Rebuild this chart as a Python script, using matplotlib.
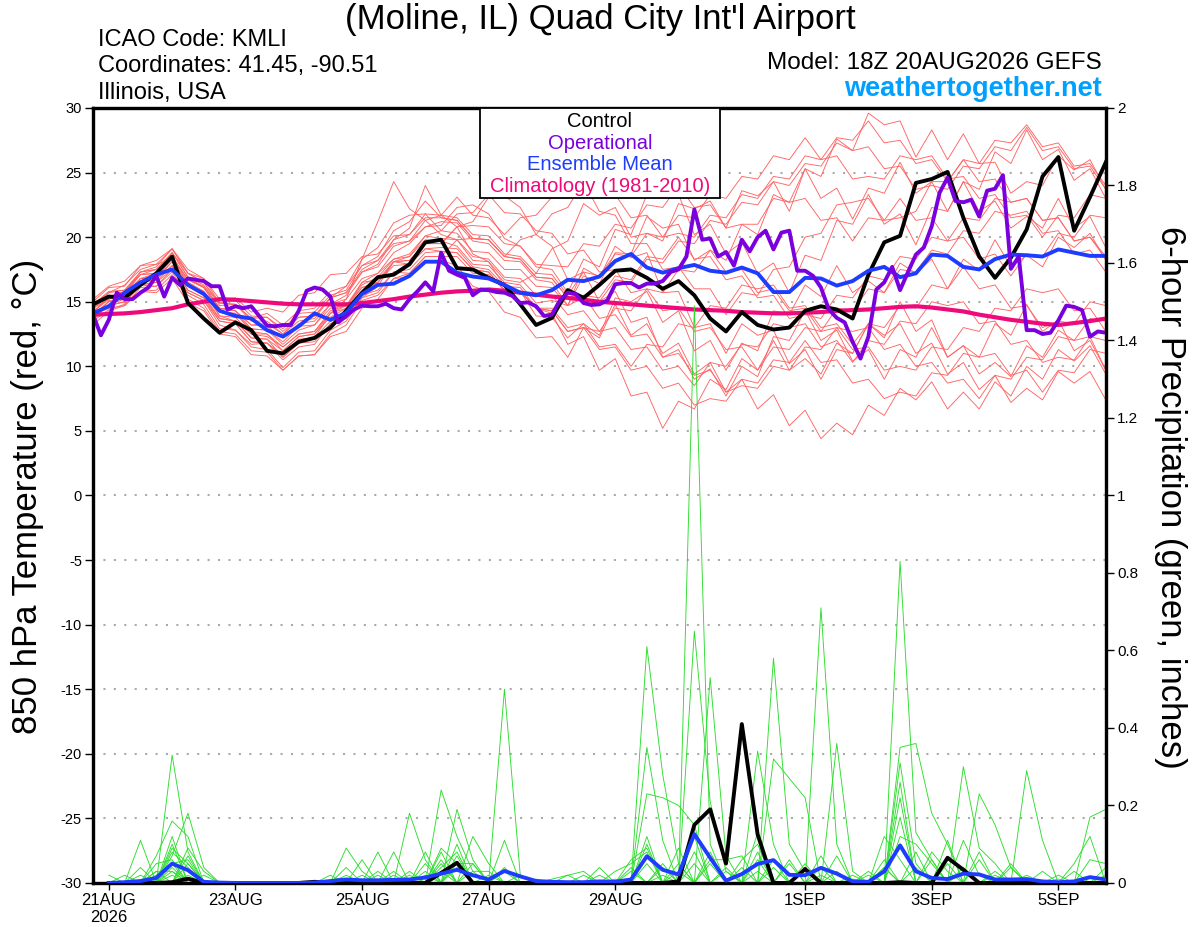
import numpy as np
import pandas as pd
import matplotlib
matplotlib.use('Agg')
import matplotlib.pyplot as plt
from matplotlib.patches import Rectangle

plt.rcParams['font.family'] = ['Liberation Sans', 'DejaVu Sans']
plt.rcParams['axes.unicode_minus'] = False

# ---------------- data ----------------
times6 = pd.date_range('2026-08-20 18:00', periods=65, freq='6h')
times3 = pd.date_range('2026-08-20 18:00', periods=129, freq='3h')

control_t = [14.8, 15.4, 15.3, 16.3, 17.2, 18.5, 14.9, 13.7, 12.6, 13.4,
             12.8, 11.2, 11.0, 11.9, 12.2, 13.0, 14.3, 15.7, 16.9, 17.1,
             17.9, 19.6, 19.8, 17.6, 17.5, 16.85, 16.3, 14.8, 13.2, 13.75,
             15.9, 15.3, 16.3, 17.4, 17.5, 16.85, 16.0, 16.6, 15.5, 13.7,
             12.7, 14.2, 13.2, 12.85, 13.0, 14.3, 14.65, 14.4, 13.7, 17.1,
             19.6, 20.1, 24.2, 24.5, 25.05, 21.5, 18.5, 16.85, 18.4, 20.6,
             24.7, 26.2, 20.5, 23.1, 25.8]

operational_t = [14.0, 12.4, 13.6, 15.7, 15.2, 15.2, 15.7, 16.1, 17.0, 15.4,
                 16.85, 16.3, 16.8, 16.7, 16.6, 16.2, 16.2, 14.4, 14.65, 14.5,
                 14.65, 13.9, 13.15, 13.1, 13.2, 13.2, 14.3, 15.85, 16.1, 15.95,
                 15.4, 13.4, 13.9, 14.4, 14.7, 14.65, 14.65, 14.85, 14.5, 14.4,
                 15.2, 15.8, 16.5, 15.8, 18.8, 17.4, 17.1, 16.85, 15.5, 15.95,
                 15.9, 15.75, 15.7, 15.45, 14.9, 14.95, 14.65, 13.9, 14.0, 15.1,
                 15.7, 15.6, 14.9, 14.75, 14.8, 15.1, 16.35, 16.45, 16.45, 16.1,
                 16.4, 16.4, 16.6, 17.3, 17.5, 18.5, 22.15, 19.8, 19.9, 18.5,
                 18.85, 17.8, 19.8, 18.9, 20.0, 20.5, 19.05, 20.35, 20.5, 17.4,
                 17.4, 17.0, 16.1, 14.4, 13.75, 13.4, 11.9, 10.6, 12.3, 15.95,
                 16.5, 17.7, 15.9, 17.3, 18.65, 19.2, 20.85, 23.45, 24.6, 22.8,
                 22.7, 22.9, 21.6, 23.6, 23.75, 24.8, 17.55, 18.5, 12.8, 12.8,
                 12.5, 12.6, 13.55, 14.7, 14.6, 14.35, 12.3, 12.7, 12.6]

mean_t = [14.1, 14.65, 15.7, 16.5, 17.1, 17.5, 16.3, 15.6, 14.3, 13.9,
          13.7, 12.8, 12.3, 13.1, 14.1, 13.6, 14.15, 15.6, 16.3, 16.4,
          17.0, 18.1, 18.1, 17.25, 16.95, 16.8, 16.3, 15.7, 15.5, 15.9,
          16.7, 16.6, 16.95, 18.15, 18.7, 17.65, 17.25, 17.6, 17.85, 17.4,
          17.25, 17.65, 17.2, 15.75, 15.75, 16.85, 16.8, 16.25, 16.6, 17.4,
          17.7, 16.9, 17.2, 18.65, 18.55, 17.7, 17.5, 18.3, 18.65, 18.6,
          18.5, 19.05, 18.8, 18.55, 18.55]

clim_t = [14.0, 14.05, 14.1, 14.2, 14.35, 14.5, 14.8, 15.0, 15.2, 15.15,
          15.05, 14.95, 14.85, 14.8, 14.8, 14.8, 14.8, 14.9, 15.05, 15.2,
          15.4, 15.55, 15.7, 15.8, 15.85, 15.95, 15.85, 15.7, 15.55, 15.4,
          15.3, 15.15, 15.0, 14.9, 14.8, 14.7, 14.6, 14.5, 14.4, 14.35,
          14.3, 14.2, 14.15, 14.1, 14.1, 14.15, 14.2, 14.3, 14.35, 14.4,
          14.5, 14.6, 14.65, 14.55, 14.4, 14.25, 14.0, 13.8, 13.6, 13.45,
          13.3, 13.2, 13.35, 13.5, 13.7]

member_t = [
    [14.5,15.5,15.5,16.8,16.9,18.3,16.7,16.1,14.2,14.1, 12.7,12.5,11.2,12.3,12.5,13.8,14.5,16.5,17.2,18.3,
     18.5,19.8,19.7,19.3,17.9,17.8,16.5,16.3,14.9,15.1, 14.7,17.6,16.9,19.3,18.4,18.8,15.7,15.8,13.0,13.3,
     11.0,13.3,12.4,12.8,10.2,11.3,9.0,11.3,11.0,13.3, 12.2,15.0,12.7,13.6,10.7,11.6,9.4,10.3,9.2,11.6, 10.7,12.8,12.0,12.3,9.7],
    [13.8,14.8,15.2,16.5,16.7,18.1,16.2,15.8,13.9,13.5, 12.2,12.1,10.7,11.8,12.2,14.1,15.2,18.3,21.2,24.3,
     22.2,21.3,20.2,19.8,18.2,18.1,16.7,16.5,17.2,19.1, 19.7,22.6,21.7,22.3,20.0,20.3,19.7,22.6,22.2,22.8,
     20.7,23.6,23.2,24.3,22.0,25.3,24.7,27.6,26.7,29.6, 28.7,29.0,26.2,28.3,26.0,28.0,25.7,25.8,23.4,24.3, 24.0,26.3,25.2,26.0,23.7],
    [14.2,15.3,15.7,17.3,17.5,18.8,16.9,16.1,14.5,14.3, 13.2,13.1,12.2,13.3,13.5,14.8,15.5,17.3,17.9,19.8,
     20.7,24.0,21.7,20.8,18.7,18.1,16.2,15.8,13.9,13.8, 12.2,13.3,12.4,15.3,15.0,15.8,13.4,14.3,11.2,12.0,
     9.7,11.8,11.2,14.3,14.0,16.3,15.4,17.8,15.7,16.6, 15.7,18.0,17.2,18.3,16.0,18.3,17.4,19.8,17.7,18.6, 17.7,20.0,19.2,20.3,18.2],
    [13.5,15.1,14.9,16.3,16.5,17.5,15.7,15.1,13.2,12.8, 11.5,11.3,9.9,11.1,11.2,12.8,13.5,15.3,16.2,18.1,
     18.2,19.5,19.5,20.8,21.2,23.1,23.2,22.3,20.2,19.3, 16.7,17.3,15.0,15.8,13.4,13.8,10.7,11.3,9.0,9.8,
     7.7,10.0,9.2,12.3,12.0,14.3,12.0,12.8,10.4,11.3, 9.0,11.3,10.7,13.0,10.7,11.6,10.7,13.3,12.4,14.8, 12.7,13.6,11.2,12.0,9.7],
    [14.8,15.8,15.9,17.3,17.7,19.1,17.2,16.5,14.7,14.8, 13.7,13.8,12.7,13.8,13.9,15.3,15.7,17.5,18.2,19.5,
     19.7,20.8,20.9,22.3,22.5,21.8,19.9,19.3,17.7,17.5, 15.7,18.3,17.7,20.6,20.2,23.3,23.0,23.3,20.2,21.0,
     18.7,19.6,17.2,18.0,15.7,18.6,18.2,21.3,21.0,23.3, 21.0,21.8,19.4,22.3,22.0,24.3,22.0,22.8,20.7,21.6, 20.7,23.0,20.7,21.6,19.2],
    [14.0,14.5,14.7,16.1,16.2,17.3,15.5,14.8,12.9,12.8, 11.7,11.8,10.5,11.5,11.7,13.3,13.9,15.8,16.5,17.8,
     17.9,19.1,19.2,19.1,17.7,17.5,16.2,16.1,14.5,14.1, 11.7,12.3,9.7,10.6,7.7,8.0,5.2,7.3,6.7,9.0,
     8.2,10.6,9.7,12.0,9.7,10.6,9.4,11.8,11.0,13.3, 12.4,13.3,11.0,11.8,9.4,10.3,8.2,9.3,7.2,8.3, 7.4,9.6,8.7,9.6,7.4],
    [15.0,16.1,16.2,17.8,17.9,18.3,16.5,15.8,14.2,14.1, 12.9,12.8,11.7,12.8,13.2,14.8,15.2,16.8,17.2,18.8,
     19.5,20.8,21.2,21.1,19.7,19.5,18.2,18.1,16.7,16.5, 14.7,17.0,16.4,18.8,18.7,21.6,20.7,21.0,18.2,19.0,
     18.2,21.0,20.2,23.3,22.7,25.3,23.0,23.8,21.4,23.8, 23.4,25.8,23.4,24.3,22.0,24.3,23.7,26.6,25.7,28.3, 26.0,26.8,24.4,25.3,23.0],
    [13.2,14.3,14.7,15.8,15.9,17.1,15.2,14.5,12.7,12.5, 11.2,11.1,9.7,10.8,10.9,12.5,13.2,15.1,15.5,16.8,
     16.9,18.1,18.2,17.8,16.2,15.8,14.2,13.8,12.2,12.3, 10.7,13.0,12.2,14.8,12.4,13.3,11.0,11.8,9.4,10.3,
     8.0,9.0,6.7,7.8,5.4,6.6,4.4,5.6,4.7,7.0, 6.2,8.3,7.4,8.8,6.7,8.0,6.7,8.8,7.7,10.0, 9.0,11.3,10.4,11.6,9.4],
    [14.5,15.2,15.6,17.1,17.2,18.5,16.7,16.2,14.9,15.1, 13.9,13.8,12.9,14.1,14.2,15.5,15.9,17.8,18.5,20.5,
     21.2,22.8,21.5,21.3,19.9,19.8,18.5,19.8,20.2,21.8, 22.3,24.3,22.0,21.7,19.5,19.5,17.5,17.7,16.0,16.0,
     14.0,15.7,15.5,17.5,17.7,20.0,20.3,22.5,22.7,23.0, 21.3,21.5,22.0,24.3,24.3,26.0,24.3,24.5,22.7,23.0, 21.3,21.5,19.7,20.0,18.5],
    [14.0,15.0,15.3,16.5,16.7,17.8,15.9,15.3,13.7,13.5, 12.5,12.3,11.5,12.5,12.7,14.3,14.7,16.3,16.9,18.3,
     18.7,20.1,19.9,19.8,18.5,18.3,16.9,16.8,15.5,15.5, 14.0,14.3,12.7,13.0,11.3,11.5,9.7,10.0,8.5,10.3,
     10.0,11.7,11.5,13.3,13.0,13.3,11.5,12.0,10.3,12.0, 11.7,13.5,13.3,15.0,14.7,15.0,13.3,13.5,11.7,12.0, 10.3,10.7,10.5,12.3,12.0],
    [14.2,15.4,15.8,17.1,17.5,18.8,16.9,16.3,14.5,14.3, 12.9,12.8,11.9,13.1,13.2,14.5,14.7,16.1,16.5,18.1,
     18.2,19.5,19.5,20.8,20.9,20.8,19.5,19.3,17.9,17.8, 17.7,19.5,19.3,21.0,20.7,22.5,22.3,24.0,22.3,22.5,
     20.7,21.0,21.0,23.0,22.7,23.0,21.3,21.5,19.7,21.5, 21.3,23.0,21.3,21.5,19.7,20.0,18.3,18.7,17.0,18.7, 18.5,20.3,20.0,21.7,21.5],
    [13.8,14.7,15.0,16.3,16.2,17.5,15.7,15.1,13.5,13.3, 11.9,11.8,10.9,12.1,12.2,13.5,13.7,15.5,15.9,17.3,
     17.2,18.5,18.5,18.5,17.2,17.1,15.9,15.8,14.5,14.5, 13.0,13.3,11.5,11.7,10.0,11.7,11.5,13.3,13.0,14.7,
     14.5,16.3,16.0,16.3,14.5,14.7,13.0,13.3,11.7,13.3, 13.0,14.7,14.5,16.3,16.0,17.7,16.0,16.3,14.5,14.7, 13.0,13.5,13.3,15.0,14.7],
    [14.8,15.7,16.3,17.5,17.9,19.1,17.5,16.8,14.9,14.8, 13.5,13.5,12.5,13.5,13.7,15.3,16.2,18.3,19.2,21.1,
     21.7,21.8,20.5,20.3,18.9,18.8,17.5,17.5,16.2,16.1, 14.7,15.3,15.0,16.7,16.5,18.3,18.0,19.7,19.5,21.3,
     21.0,22.7,22.5,24.3,24.0,25.7,25.5,27.3,26.7,27.0, 25.3,25.5,23.7,24.0,23.7,25.5,25.3,27.0,26.7,28.5, 26.7,27.0,25.3,25.5,23.7],
    [13.5,14.4,14.8,15.8,15.7,16.8,14.9,14.3,12.5,12.3, 10.9,10.8,9.7,10.8,10.9,12.3,12.7,14.5,15.2,16.8,
     17.2,18.5,18.5,19.8,19.9,19.8,18.5,18.3,16.9,16.8, 15.3,15.5,13.7,14.0,12.3,12.5,10.7,11.0,9.3,9.7,
     8.0,8.5,8.3,10.0,9.7,11.5,11.3,13.0,12.7,13.0, 11.3,11.7,10.0,10.3,8.7,9.0,7.5,9.3,9.0,10.7, 10.5,12.3,12.0,13.7,13.5],
    [14.5,15.7,15.9,17.3,17.5,18.5,16.7,16.1,14.5,14.3, 13.2,13.3,12.5,13.8,13.9,15.3,15.7,17.3,17.7,19.3,
     19.7,21.3,21.7,21.5,20.2,20.1,18.7,18.5,17.2,17.1, 15.5,17.3,17.0,18.7,18.5,20.3,20.0,21.7,21.5,23.3,
     23.0,24.7,24.5,26.3,26.0,27.7,26.0,26.3,24.5,24.7, 24.5,26.3,26.0,26.3,24.5,24.7,23.0,23.3,21.5,21.7, 20.0,21.7,21.5,23.3,23.0],
    [14.0,15.0,15.3,16.8,16.9,18.1,16.5,15.8,13.9,13.8, 12.5,12.5,11.5,12.5,12.7,14.1,14.5,16.1,16.5,18.1,
     18.5,20.1,20.5,21.8,21.9,23.3,21.9,21.8,20.5,20.3, 18.7,19.0,17.3,17.5,15.7,16.0,14.3,14.5,12.7,13.0,
     11.3,11.5,9.7,11.5,11.3,13.0,12.7,14.5,14.3,16.0, 15.7,17.5,17.3,19.0,18.7,20.5,20.3,22.0,21.7,22.0, 20.3,20.5,18.7,19.0,17.3],
    [14.2,15.2,15.6,16.8,17.2,18.3,16.2,15.5,13.7,13.5, 12.2,12.1,11.2,12.3,12.5,14.1,14.7,16.5,16.7,18.1,
     17.9,19.1,18.9,18.8,17.5,17.3,15.9,15.8,14.5,14.3, 12.7,13.0,12.7,14.5,14.3,16.0,15.7,17.5,17.3,19.0,
     17.3,17.5,15.7,16.0,14.3,14.5,12.7,13.0,11.3,11.5, 9.7,10.0,9.7,11.5,11.3,13.0,12.7,14.5,14.3,16.0, 15.7,16.0,14.3,14.5,12.7],
    [15.2,16.2,16.6,17.8,18.2,19.1,17.2,16.5,14.9,14.8, 13.7,14.1,13.2,14.3,14.5,15.8,16.2,17.8,18.2,19.8,
     20.2,21.8,21.7,23.1,21.7,21.5,20.2,21.5,21.7,23.1, 23.0,24.7,23.0,23.3,21.5,21.7,20.0,20.3,20.0,21.7,
     21.5,23.3,23.0,24.7,24.5,26.3,26.0,27.7,27.5,29.0, 27.3,27.5,25.7,26.0,24.3,26.0,25.7,27.5,27.3,28.7, 27.0,27.3,25.5,25.7,24.0],
    [13.8,14.7,15.0,16.3,16.5,17.8,15.9,15.3,13.5,13.3, 11.9,11.8,10.7,11.8,11.9,13.3,13.7,15.3,15.7,17.3,
     17.5,18.8,18.9,18.8,17.5,17.3,15.9,15.8,14.5,14.3, 12.7,13.0,11.3,11.5,9.7,10.0,8.3,8.7,7.0,7.5,
     7.3,9.0,8.7,10.5,10.3,12.0,10.3,10.5,8.7,9.0, 7.5,8.0,7.7,9.5,9.3,11.0,10.7,11.0,9.3,9.7, 8.0,9.7,9.5,11.3,11.0],
    [14.5,15.4,15.8,17.1,17.2,18.8,17.2,16.8,15.2,15.3, 14.2,14.5,14.2,15.5,15.7,17.1,17.2,18.5,18.7,20.1,
     20.2,21.5,21.5,21.3,19.9,19.8,18.5,18.3,16.9,16.8, 15.3,15.5,15.3,17.0,16.7,18.5,18.3,20.0,18.3,18.5,
     16.7,17.0,15.3,15.5,13.7,14.0,13.7,15.5,15.3,17.0, 16.7,18.5,18.3,20.0,19.7,21.5,21.3,23.0,22.7,23.0, 21.3,21.5,19.7,20.0,18.3],
]

# 6-hour precipitation, starts at the second time step (21AUG 00Z)
control_p = [0, 0, 0, 0, 0.002, 0.011, 0, 0,
             0, 0, 0, 0, 0, 0.003, 0, 0,
             0, 0, 0, 0, 0, 0.026, 0.052, 0,
             0, 0, 0, 0, 0, 0, 0, 0,
             0, 0, 0, 0, 0.004, 0.15, 0.19, 0.05,
             0.41, 0.125, 0, 0, 0.036, 0, 0, 0,
             0, 0, 0.002, 0, 0, 0.065, 0.034, 0,
             0, 0, 0, 0, 0, 0, 0, 0]

mean_p = [0, 0.002, 0.005, 0.013, 0.05, 0.033, 0.003, 0.001,
          0, 0, 0, 0, 0, 0.001, 0.005, 0.009,
          0.007, 0.007, 0.008, 0.009, 0.014, 0.024, 0.034, 0.02,
          0.009, 0.031, 0.017, 0.005, 0.003, 0.002, 0.002, 0.004,
          0.003, 0.009, 0.069, 0.034, 0.022, 0.126, 0.065, 0.006,
          0.023, 0.049, 0.059, 0.021, 0.02, 0.039, 0.024, 0.004,
          0.003, 0.03, 0.097, 0.03, 0.013, 0.01, 0.024, 0.022,
          0.009, 0.009, 0.01, 0.004, 0.002, 0.004, 0.015, 0.009]

# ensemble members: {time step: precip}, all other steps are zero
member_p = [
    {3: 0.11, 5: 0.09, 6: 0.05, 20: 0.18, 21: 0.06, 35: 0.61, 36: 0.28, 37: 0.05, 46: 0.07, 51: 0.35, 52: 0.36, 53: 0.18, 54: 0.10},
    {5: 0.33, 6: 0.08, 22: 0.24, 23: 0.12, 24: 0.03, 38: 1.49, 39: 0.10, 42: 0.03, 55: 0.30, 56: 0.09, 57: 0.05},
    {4: 0.07, 5: 0.16, 6: 0.12, 26: 0.50, 27: 0.02, 38: 0.65, 39: 0.21, 40: 0.03, 59: 0.29, 60: 0.11},
    {5: 0.07, 6: 0.18, 7: 0.04, 23: 0.19, 24: 0.06, 39: 0.53, 40: 0.07, 51: 0.83, 52: 0.13, 53: 0.06},
    {4: 0.05, 5: 0.06, 16: 0.09, 17: 0.03, 43: 0.58, 44: 0.10, 45: 0.03, 51: 0.31, 52: 0.05, 63: 0.17, 64: 0.19},
    {5: 0.05, 6: 0.06, 22: 0.09, 23: 0.05, 35: 0.35, 36: 0.11, 46: 0.71, 47: 0.10, 56: 0.23, 57: 0.15, 58: 0.04},
    {3: 0.04, 5: 0.04, 19: 0.08, 21: 0.08, 42: 0.34, 43: 0.10, 51: 0.22, 62: 0.05, 63: 0.12},
    {4: 0.03, 5: 0.03, 7: 0.02, 18: 0.08, 24: 0.12, 25: 0.05, 43: 0.32, 44: 0.27, 45: 0.22, 55: 0.11, 56: 0.02},
    {6: 0.05, 17: 0.06, 22: 0.05, 26: 0.11, 35: 0.23, 36: 0.22, 37: 0.20, 38: 0.15, 47: 0.36, 48: 0.03, 54: 0.11},
    {5: 0.02, 16: 0.04, 21: 0.02, 23: 0.04, 34: 0.06, 35: 0.09, 39: 0.06, 40: 0.06, 41: 0.07, 50: 0.12, 51: 0.06, 55: 0.03},
    {15: 0.02, 18: 0.02, 24: 0.03, 25: 0.03, 29: 0.01, 30: 0.02, 31: 0.03, 33: 0.03, 34: 0.05, 35: 0.08, 42: 0.13, 50: 0.06, 57: 0.03},
    {19: 0.03, 26: 0.03, 32: 0.04, 34: 0.03, 36: 0.05, 38: 0.08, 41: 0.06, 42: 0.10, 50: 0.04, 53: 0.06, 58: 0.05},
    {6: 0.02, 28: 0.01, 33: 0.01, 37: 0.03, 42: 0.06, 44: 0.05, 46: 0.04, 49: 0.03, 61: 0.01, 64: 0.02},
    {4: 0.02, 5: 0.05, 20: 0.03, 22: 0.04, 23: 0.08, 31: 0.02, 36: 0.04, 45: 0.04, 48: 0.01, 52: 0.08, 59: 0.02, 62: 0.03},
    {3: 0.02, 5: 0.08, 6: 0.04, 17: 0.02, 21: 0.05, 23: 0.07, 37: 0.05, 40: 0.03, 47: 0.03, 51: 0.12, 52: 0.10, 53: 0.05, 56: 0.06},
    {2: 0.02, 5: 0.10, 16: 0.02, 20: 0.02, 22: 0.06, 24: 0.05, 36: 0.02, 38: 0.05, 44: 0.06, 49: 0.02, 51: 0.17, 54: 0.05, 60: 0.03},
    {6: 0.09, 7: 0.03, 18: 0.03, 22: 0.03, 25: 0.02, 35: 0.05, 39: 0.08, 43: 0.04, 46: 0.02, 51: 0.26, 55: 0.04, 57: 0.02},
    {1: 0.02, 5: 0.12, 21: 0.03, 23: 0.10, 30: 0.02, 35: 0.10, 38: 0.12, 42: 0.08, 45: 0.05, 50: 0.04, 56: 0.08, 63: 0.06, 64: 0.05},
    {4: 0.03, 6: 0.07, 19: 0.02, 22: 0.08, 26: 0.04, 34: 0.04, 37: 0.09, 40: 0.04, 47: 0.07, 52: 0.04, 58: 0.04, 61: 0.02},
    {5: 0.03, 23: 0.05, 24: 0.05, 27: 0.02, 32: 0.02, 35: 0.12, 39: 0.05, 41: 0.04, 43: 0.06, 48: 0.02, 53: 0.08, 54: 0.03, 64: 0.04},
]

tick_dates = ['2026-08-21', '2026-08-23', '2026-08-25', '2026-08-27',
              '2026-08-29', '2026-09-01', '2026-09-03', '2026-09-05']
tick_labels = ['21AUG\n2026', '23AUG', '25AUG', '27AUG', '29AUG', '1SEP', '3SEP', '5SEP']

legend_labels = ['Control', 'Operational', 'Ensemble Mean', 'Climatology (1981-2010)']

# colours
c_member_t = '#ff6464'
c_member_p = '#2ddd2d'
c_control = 'black'
c_oper = '#7a00dd'
c_mean = '#1e3cff'
c_clim = '#ee0a7a'

# ---------------- plot ----------------
fig = plt.figure(figsize=(12, 9.27), dpi=100)
ax = fig.add_axes([0.0775, 0.0475, 0.844, 0.836])
ax2 = ax.twinx()

for m in member_t:
    ax.plot(times6, m, color=c_member_t, lw=0.65, zorder=2)
ax.plot(times6, clim_t, color=c_clim, lw=3.0, zorder=4)
ax.plot(times6, control_t, color=c_control, lw=2.8, zorder=5)
ax.plot(times6, mean_t, color=c_mean, lw=2.8, zorder=6)
ax.plot(times3, operational_t, color=c_oper, lw=2.8, zorder=7)

ptimes = times6[1:]
for d in member_p:
    vals = [d.get(k + 1, 0.0) for k in range(len(ptimes))]
    ax2.plot(ptimes, vals, color=c_member_p, lw=0.65, zorder=2)
ax2.plot(ptimes, control_p, color=c_control, lw=2.8, zorder=5)
ax2.plot(ptimes, mean_p, color=c_mean, lw=2.8, zorder=6)

ax.set_xlim(times6[0], times6[-1])
ax.set_ylim(-30, 30)
ax2.set_ylim(0, 2)

ax.set_yticks(np.arange(-30, 31, 5))
ax.set_yticklabels([str(v) for v in range(-30, 31, 5)])
p_ticks = np.round(np.arange(0, 2.01, 0.2), 1)
ax2.set_yticks(p_ticks)
ax2.set_yticklabels(['{:g}'.format(v) for v in p_ticks])

ax.set_xticks(pd.to_datetime(tick_dates))
ax.set_xticklabels(tick_labels)

ax.grid(axis='y', color='#aaaaaa', ls=(0, (1, 4)), lw=1.5)
ax.set_axisbelow(True)

for a in (ax, ax2):
    for s in a.spines.values():
        s.set_linewidth(2.3)
ax.tick_params(axis='y', direction='out', length=6, width=1, labelsize=10.5, pad=2)
ax2.tick_params(axis='y', direction='out', length=6, width=1, labelsize=11, pad=2)
ax.tick_params(axis='x', direction='out', length=5, width=1, labelsize=12, pad=2)

fig.text(0.0233, 0.464, '850 hPa Temperature (red, °C)', fontsize=25,
         rotation=90, ha='center', va='center')
fig.text(0.975, 0.463, '6-hour Precipitation (green, inches)', fontsize=25,
         rotation=270, ha='center', va='center')

# legend box
ax2.add_patch(Rectangle((0.382, 0.884), 0.237, 0.116, transform=ax2.transAxes,
                        facecolor='white', edgecolor='black', lw=1.3, zorder=20))
for k, (lab, col) in enumerate(zip(legend_labels, [c_control, c_oper, c_mean, c_clim])):
    ax2.text(0.5005, 0.982 - k * 0.0277, lab, color=col, fontsize=14.5,
             ha='center', va='center', transform=ax2.transAxes, zorder=21)

# headers
fig.text(0.5, 0.979, "(Moline, IL) Quad City Int'l Airport", fontsize=25, ha='center', va='center')
fig.text(0.0817, 0.9569, 'ICAO Code: KMLI', fontsize=17, ha='left', va='center')
fig.text(0.0817, 0.9288, 'Coordinates: 41.45, -90.51', fontsize=17, ha='left', va='center')
fig.text(0.0817, 0.8997, 'Illinois, USA', fontsize=17, ha='left', va='center')
fig.text(0.9183, 0.932, 'Model: 18Z 20AUG2026 GEFS', fontsize=17.5, ha='right', va='center')
fig.text(0.9183, 0.904, 'weathertogether.net', fontsize=19.5, fontweight='bold',
         color='#00a0ff', ha='right', va='center')

fig.savefig('out.png', dpi=100)
